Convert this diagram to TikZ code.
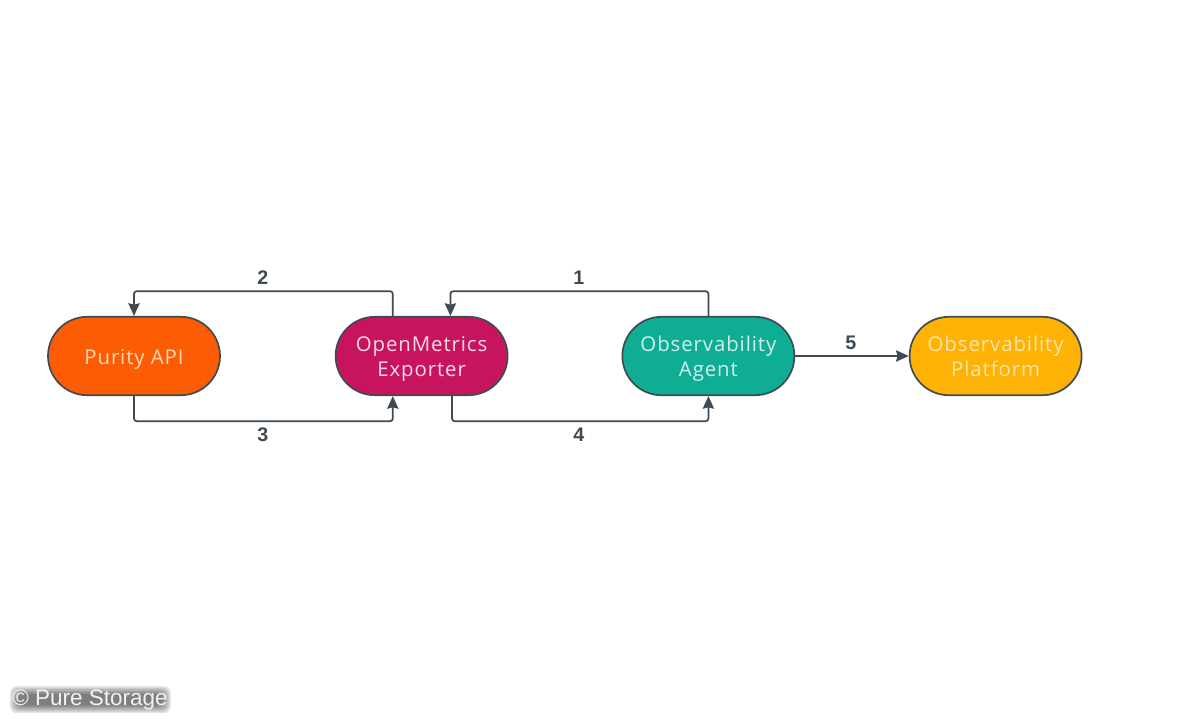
\documentclass[tikz,border=0pt]{standalone}
\usepackage{fontspec}
\setmainfont{DejaVu Sans}
\newfontfamily\boxfont[LetterSpace=4.5]{Open Sans}
\newfontfamily\notefont{Liberation Sans}
\usetikzlibrary{arrows.meta}
\definecolor{purity}{HTML}{FC5C04}
\definecolor{exporter}{HTML}{C8145F}
\definecolor{agent}{HTML}{10AD95}
\definecolor{platform}{HTML}{FDB205}
\definecolor{edge}{HTML}{3F4A52}
\newcommand{\boxlift}{\rule{0pt}{15pt}}
\newcommand{\boxdrop}{\rule[-4pt]{0pt}{4pt}}
\tikzset{
  pill/.style={draw=edge, line width=1.2pt, rounded corners=0.98cm, minimum width=4.3cm, minimum height=1.96cm, align=center, font=\boxfont\fontsize{14.5}{17.5}\selectfont},
  link/.style={draw=edge, line width=1.25pt, rounded corners=2pt, -{Stealth[length=9pt,width=8pt,inset=1pt]}},
  num/.style={draw=none, fill=none, text=edge, font=\notefont\bfseries\fontsize{14}{16}\selectfont}
}

\begin{document}
\begin{tikzpicture}
\useasboundingbox (0,0) rectangle (30,-18);
\node[pill, fill=purity, text=orange!30!white] (api) at (3.35,-8.9) {\boxlift Purity API\rule[-2pt]{0pt}{2pt}};
\node[pill, fill=exporter, text=exporter!15!white] (exp) at (10.54,-8.9) {\boxlift OpenMetrics\\Exporter\boxdrop};
\node[pill, fill=agent, text=agent!20!white] (obsagent) at (17.71,-8.9) {\boxlift Observability\\Agent\boxdrop};
\node[pill, fill=platform, text=platform!35!white] (obsplat) at (24.89,-8.9) {\boxlift Observability\\Platform\boxdrop};
\draw[link] ([xshift=-0.72cm]exp.north) -- ++(0,0.62) -| (api.north);
\draw[link] (api.south) -- ++(0,-0.63) -| ([xshift=-0.72cm]exp.south);
\draw[link] (obsagent.north) -- ++(0,0.62) -| ([xshift=0.72cm]exp.north);
\draw[link] ([xshift=0.76cm]exp.south) -- ++(0,-0.63) -| (obsagent.south);
\draw[link] (obsagent.east) -- (obsplat.west);
\node[num] (n2) at (6.57,-6.95) {2};
\node[num] (n3) at (6.57,-10.88) {3};
\node[num] (n1) at (14.47,-6.95) {1};
\node[num] (n4) at (14.47,-10.88) {4};
\node[num] (n5) at (21.27,-8.58) {5};
% soft dark patch under the credit
\foreach \g in {0,0.04,0.08,0.12,0.16,0.2}
  \fill[black, opacity=0.11, rounded corners=5pt] (0.25+\g,-17.83+\g) rectangle (4.27-\g,-17.15-\g);
\node[text=white!95!black, font=\notefont\fontsize{16}{18}\selectfont, anchor=west, inner sep=0pt] (credit) at (0.3,-17.5) {© Pure Storage};
\end{tikzpicture}
\end{document}
